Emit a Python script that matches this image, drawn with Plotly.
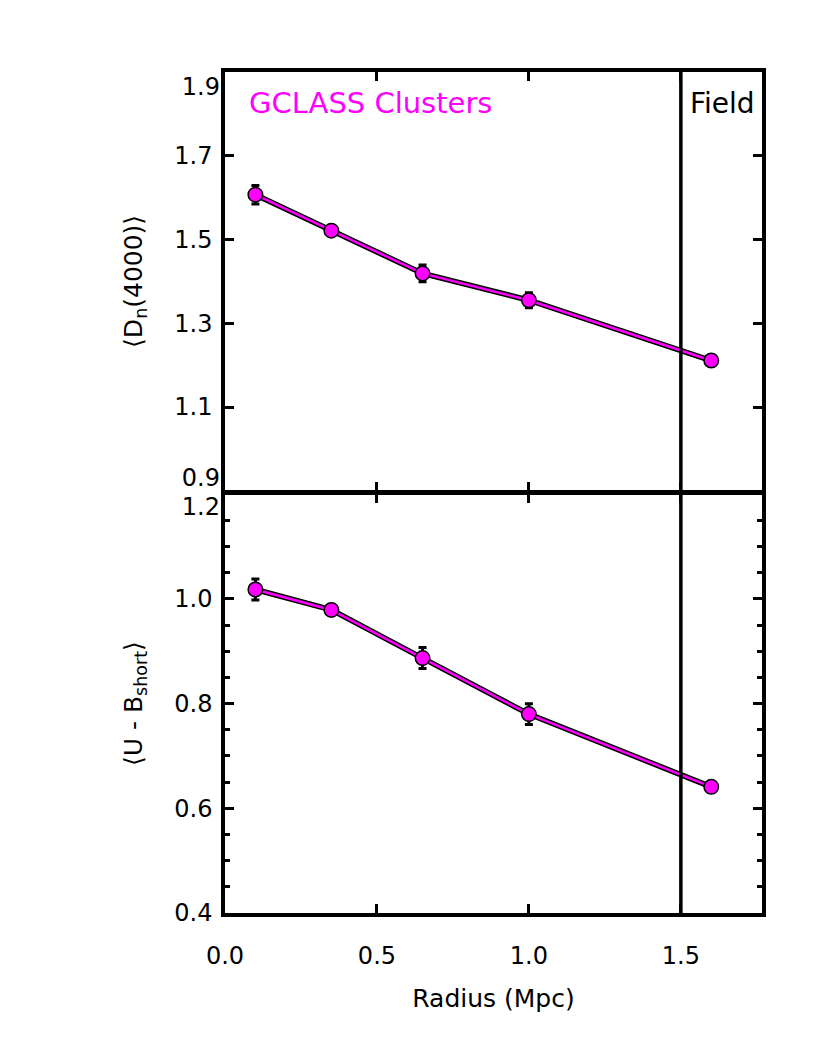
import plotly.graph_objects as go

radius = [0.1, 0.35, 0.65, 1.0, 1.6]
dn4000 = [1.607, 1.521, 1.419, 1.355, 1.211]
dn4000_err = [0.022, 0.010, 0.020, 0.018, 0.008]
ub_short = [1.018, 0.979, 0.887, 0.780, 0.641]
ub_short_err = [0.020, 0.010, 0.020, 0.020, 0.010]

top_ticks = [1.1, 1.3, 1.5, 1.7]
top_edge_ticks = [0.9, 1.9]
bot_ticks = [0.4, 0.6, 0.8, 1.0]
bot_edge_ticks = [1.2]
x_ticks = [0.0, 0.5, 1.0, 1.5]
x_labels = ["0.0", "0.5", "1.0", "1.5"]
field_boundary = 1.5

MAG = "#ff00ff"
FONT = "DejaVu Sans, Liberation Sans, Arial, sans-serif"
LW = 3.5
TICKFONT = dict(size=24, color="black", family=FONT)

# the page body has an 8px default margin: compensate in the figure size
W, H = 822, 1049
ML, MR, MT, MB = 217, 68, 64, 144
plot_h = H - MT - MB
d = (LW / 2) / plot_h

fig = go.Figure()

for yv, err, ax in [(dn4000, dn4000_err, "y"), (ub_short, ub_short_err, "y2")]:
    xa = "x" if ax == "y" else "x2"
    fig.add_trace(go.Scatter(x=radius, y=yv, mode="lines", xaxis=xa, yaxis=ax,
                             line=dict(color="black", width=5.5), showlegend=False,
                             hoverinfo="skip"))
    fig.add_trace(go.Scatter(x=radius, y=yv, mode="lines+markers", xaxis=xa, yaxis=ax,
                             line=dict(color=MAG, width=2.5),
                             marker=dict(size=14.5, color=MAG, line=dict(color="black", width=1.5)),
                             error_y=dict(type="data", array=err, color="black", thickness=3, width=4),
                             showlegend=False))

# invisible traces so the overlay label axes are drawn
for ax in ["y3", "y4", "y5"]:
    xa = "x2" if ax == "y5" else "x"
    fig.add_trace(go.Scatter(x=[None], y=[None], xaxis=xa, yaxis=ax, showlegend=False, hoverinfo="skip"))

fig.add_shape(type="line", x0=field_boundary, x1=field_boundary, y0=0, y1=1,
              xref="x", yref="paper", line=dict(color="black", width=LW))

common_axis = dict(showline=True, linecolor="black", linewidth=LW, ticks="inside",
                   tickcolor="black", tickwidth=3, mirror="ticks", showgrid=False,
                   zeroline=False, tickfont=TICKFONT)

xr = [0, 1.767]
top_range = [0.9, 1.9]
bot_range = [0.4, 1.2]

overlay = dict(showline=False, ticks="", showgrid=False, zeroline=False, tickfont=TICKFONT,
               ticklabelstandoff=4, tickformat=".1f")

fig.update_layout(
    width=W, height=H,
    margin=dict(l=ML, r=MR, t=MT, b=MB),
    paper_bgcolor="white", plot_bgcolor="white",
    font=dict(family=FONT, color="black", size=24),
    xaxis=dict(domain=[0, 1], anchor="y", range=xr, tickvals=x_ticks, showticklabels=False,
               ticklen=9, **common_axis),
    yaxis=dict(domain=[0.5 + d, 1], anchor="x", range=top_range, tickvals=top_ticks,
               tickformat=".1f", ticklen=9, ticklabelstandoff=4,
               title=dict(text="⟨D<sub>n</sub>(4000)⟩", font=dict(size=25), standoff=26),
               **common_axis),
    xaxis2=dict(domain=[0, 1], anchor="y2", range=xr, tickvals=x_ticks,
                ticktext=x_labels, ticklen=9, ticklabelstandoff=18,
                title=dict(text="Radius (Mpc)", font=dict(size=25), standoff=22),
                **common_axis),
    yaxis2=dict(domain=[0, 0.5 - d], anchor="x2", range=bot_range, tickvals=bot_ticks,
                tickformat=".1f", ticklen=9, ticklabelstandoff=4,
                minor=dict(dtick=0.05, ticklen=5, tickwidth=3, ticks="inside", tickcolor="black"),
                title=dict(text="⟨U - B<sub>short</sub>⟩", font=dict(size=25), standoff=26),
                **common_axis),
    yaxis3=dict(overlaying="y", anchor="x", range=top_range, tickvals=[top_edge_ticks[1]],
                ticklabelposition="outside bottom", ticklabelshift=-2, **overlay),
    yaxis4=dict(overlaying="y", anchor="x", range=top_range, tickvals=[top_edge_ticks[0]],
                ticklabelposition="outside top", ticklabelshift=4, **overlay),
    yaxis5=dict(overlaying="y2", anchor="x2", range=bot_range, tickvals=bot_edge_ticks,
                ticklabelposition="outside bottom", ticklabelshift=-4, **overlay),
)

fig.add_annotation(text="GCLASS Clusters", x=0.041, y=0.963, xref="paper", yref="paper",
                   xanchor="left", yanchor="middle", showarrow=False,
                   font=dict(size=29, color=MAG, family=FONT))
fig.add_annotation(text="Field", x=0.862, y=0.963, xref="paper", yref="paper",
                   xanchor="left", yanchor="middle", showarrow=False,
                   font=dict(size=28, color="black", family=FONT))

fig.write_html("out.html")
